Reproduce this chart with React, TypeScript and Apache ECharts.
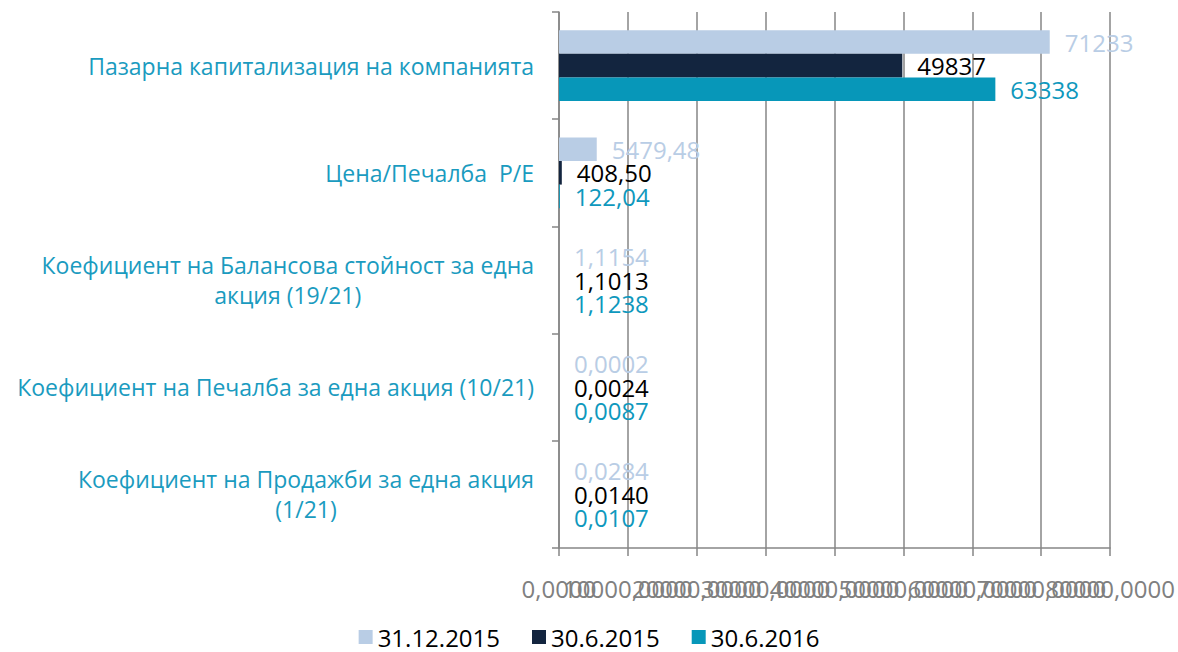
import React, { useEffect, useRef } from "react";
import * as echarts from "echarts";

const categories = [
  "Пазарна капитализация на компанията",
  "Цена/Печалба  P/E",
  "Коефициент на Балансова стойност за една\nакция (19/21)",
  "Коефициент на Печалба за една акция (10/21)",
  "Коефициент на Продажби за една акция\n(1/21)",
];
const decimals = [0, 2, 4, 4, 4];
const seriesNames = ["31.12.2015", "30.6.2015", "30.6.2016"];
const values_31_12_2015 = [71233, 5479.48, 1.1154, 0.0002, 0.0284];
const values_30_6_2015 = [49837, 408.5, 1.1013, 0.0024, 0.014];
const values_30_6_2016 = [63338, 122.04, 1.1238, 0.0087, 0.0107];
const xMin = 0;
const xMax = 80000;
const xStep = 10000;

const barColors = ["#B9CDE5", "#13253F", "#0797B9"];
const labelColors = ["#B9CDE5", "#000000", "#0E98BD"];
const catColor = "#1A9BBF";
const axisGray = "#868686";
const FONT = "'Open Sans', sans-serif";
const CAT_FS = 23;
const FS = 24;

const fmt = (v: number, d: number) => v.toFixed(d).replace(".", ",");

export default function App() {
  const ref = useRef<HTMLDivElement>(null);
  useEffect(() => {
    if (!ref.current) return;
    const chart = echarts.init(ref.current, undefined, { renderer: "svg" });
    const allValues = [values_31_12_2015, values_30_6_2015, values_30_6_2016];
    const xLabelBase = {
      margin: 28,
      color: "#808080",
      fontFamily: FONT,
      fontSize: FS,
      hideOverlap: false,
    };
    chart.setOption({
      animation: false,
      textStyle: { fontFamily: FONT },
      grid: { left: 559, right: 66, top: 12, bottom: 104, containLabel: false },
      legend: {
        data: seriesNames,
        top: 620,
        left: "center",
        icon: "rect",
        itemWidth: 14,
        itemHeight: 14,
        itemGap: 32,
        textStyle: { fontFamily: FONT, fontSize: FS, color: "#000" },
      },
      xAxis: [
        {
          type: "value",
          position: "bottom",
          min: xMin,
          max: xMax,
          interval: xStep,
          axisLine: { show: false },
          axisTick: { show: false },
          splitLine: { show: false },
          axisLabel: {
            ...xLabelBase,
            showMinLabel: false,
            showMaxLabel: false,
            formatter: (v: number) => fmt(v, 4),
          },
        },
        {
          type: "value",
          position: "bottom",
          min: xMin,
          max: xMax,
          interval: xStep,
          axisLine: { show: true, lineStyle: { color: axisGray, width: 1.5 } },
          axisTick: { show: true, length: 8, lineStyle: { color: axisGray, width: 1.5 } },
          splitLine: { show: true, lineStyle: { color: axisGray, width: 1.5 } },
          axisLabel: {
            ...xLabelBase,
            showMinLabel: true,
            showMaxLabel: true,
            formatter: (v: number) => (v === xMin || v === xMax ? fmt(v, 4) : ""),
          },
        },
      ],
      yAxis: {
        type: "category",
        inverse: true,
        data: categories,
        axisLine: { show: true, lineStyle: { color: axisGray, width: 1.5 } },
        axisTick: { show: true, length: 7, lineStyle: { color: axisGray, width: 1.5 } },
        axisLabel: {
          margin: 25,
          color: catColor,
          fontFamily: FONT,
          fontSize: CAT_FS,
          formatter: (v: string) =>
            v
              .split("\n")
              .map((l) => `{c|${l}}`)
              .join("\n"),
          rich: {
            c: {
              align: "center",
              color: catColor,
              fontFamily: FONT,
              fontSize: CAT_FS,
              lineHeight: 30,
            },
          },
        },
      },
      series: seriesNames.map((name, i) => ({
        name,
        type: "bar",
        xAxisIndex: 0,
        data: allValues[i],
        barGap: "0%",
        barCategoryGap: "34%",
        itemStyle: { color: barColors[i] },
        label: {
          show: true,
          position: "right",
          distance: 15,
          color: labelColors[i],
          fontFamily: FONT,
          fontSize: FS,
          formatter: (p: any) => fmt(p.value, decimals[p.dataIndex]),
        },
      })),
    });
    return () => chart.dispose();
  }, []);
  return (
    <div
      ref={ref}
      style={{ position: "fixed", left: 0, top: 0, width: 1178, height: 652, background: "#fff" }}
    />
  );
}
